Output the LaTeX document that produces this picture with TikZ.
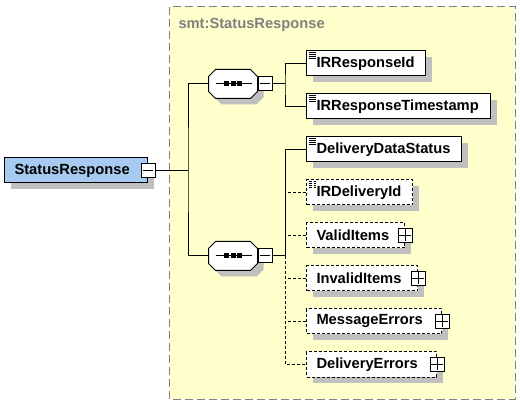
\documentclass[tikz,border=0pt]{standalone}
\usepackage{fontspec}
\setmainfont{Liberation Sans}
\usepackage{xcolor}
\usepackage{tikz}
\usetikzlibrary{shadows}

\definecolor{xsdyellow}{RGB}{255,255,204}
\definecolor{xsdblue}{RGB}{166,202,240}
\definecolor{xsdshadow}{RGB}{192,192,192}
\definecolor{xsdgray}{RGB}{128,128,128}

\begin{document}
\begin{tikzpicture}[x=1pt,y=-1pt,line width=1pt,
  font=\fontsize{14.7}{17}\selectfont\bfseries,
  shade6/.style={drop shadow={shadow xshift=6pt, shadow yshift=-6pt, fill=xsdshadow, opacity=1}},
  box/.style={shape=rectangle, draw, anchor=west, minimum height=25pt,
    inner xsep=10pt, inner ysep=0pt, align=left, text width=#1, shade6},
  elem/.style={box=#1, fill=white},
  opt/.style={dash pattern=on 3pt off 2pt},
  simple/.style={path picture={
    \foreach \k in {0,1,2,3}
      \draw[line width=0.8pt] ([xshift=2pt,yshift=-1.8pt-\k*1.8pt]path picture bounding box.north west) -- ++(7pt,0pt);}},
  minusbox/.style={draw, fill=white, minimum size=14pt, inner sep=0pt, path picture={
    \draw ([xshift=2pt]path picture bounding box.west) -- ([xshift=-2pt]path picture bounding box.east);}},
  plusbox/.style={draw, fill=white, minimum size=14pt, inner sep=0pt, path picture={
    \draw ([xshift=1pt]path picture bounding box.west) -- ([xshift=-1pt]path picture bounding box.east);
    \draw ([yshift=-1pt]path picture bounding box.north) -- ([yshift=1pt]path picture bounding box.south);}},
  seqarea/.style={shape=rectangle, minimum width=48pt, minimum height=28pt, inner sep=0pt}
]
\useasboundingbox (0,0) rectangle (523,409);

% complex type area
\draw[draw=xsdgray, fill=xsdyellow, dash pattern=on 8pt off 4pt] (169,7) rectangle (515,399);
\node[anchor=west, text=xsdgray, inner sep=0pt] (tname) at (178,25) {smt:StatusResponse};

% root element
\node[box=123pt, fill=xsdblue] (sr) at (4,170.5) {StatusResponse};
\node[minusbox] (srm) at (sr.east) {};

% sequences
\node[seqarea] (seqa) at (233,84) {};
\node[seqarea] (seqb) at (233,256) {};
\foreach \s in {seqa,seqb} {
  \draw[fill=white, shade6] ([xshift=7pt]\s.north west) -- ([xshift=-7pt]\s.north east)
    -- ([yshift=-7pt]\s.north east) -- ([yshift=7pt]\s.south east)
    -- ([xshift=-7pt]\s.south east) -- ([xshift=7pt]\s.south west)
    -- ([yshift=7pt]\s.south west) -- ([yshift=-7pt]\s.north west) -- cycle;
  \draw ([xshift=7pt]\s.west) -- ([xshift=-6pt]\s.east);
  \foreach \i in {-6.5,0,6.5}
    \fill ([xshift=\i pt-2.5pt,yshift=-2.5pt]\s.center) rectangle ([xshift=\i pt+2.5pt,yshift=2.5pt]\s.center);
}
\node[minusbox, anchor=west] (ma) at (seqa.east) {};
\node[minusbox, anchor=west] (mb) at (seqb.east) {};

% children of first sequence
\node[elem=99pt, simple] (rid) at (306,63.5) {IRResponseId};
\node[elem=164pt, simple] (rts) at (306,106.5) {IRResponseTimestamp};

% children of second sequence
\node[elem=135pt, simple] (dds) at (306,149.5) {DeliveryDataStatus};
\node[elem=86pt, simple, opt] (drd) at (306,192.5) {IRDeliveryId};
\node[elem=78pt, opt] (vit) at (306,235.5) {ValidItems};
\node[plusbox] (vitp) at (vit.east) {};
\node[elem=91pt, opt] (ivit) at (306,278.5) {InvalidItems};
\node[plusbox] (ivitp) at (ivit.east) {};
\node[elem=115pt, opt] (merr) at (306,321.5) {MessageErrors};
\node[plusbox] (merrp) at (merr.east) {};
\node[elem=110pt, opt] (derr) at (306,364.5) {DeliveryErrors};
\node[plusbox] (derrp) at (derr.east) {};

% connectors
\coordinate (fork) at (188,170.5);
\coordinate (forka) at (285,84);
\coordinate (forkb) at (285,256);
\draw (srm.east) -- (fork);
\draw (seqa.west) -| (fork) |- (seqb.west);
\draw (ma.east) -- (forka);
\draw (rid.west) -| (forka) |- (rts.west);
\draw (mb.east) -- (forkb);
\draw (dds.west) -| (forkb);
\draw[opt] (forkb) |- (derr.west);
\foreach \n in {drd,vit,ivit,merr}
  \draw[opt] (\n.west) -- (\n.west -| forkb);
\end{tikzpicture}
\end{document}
